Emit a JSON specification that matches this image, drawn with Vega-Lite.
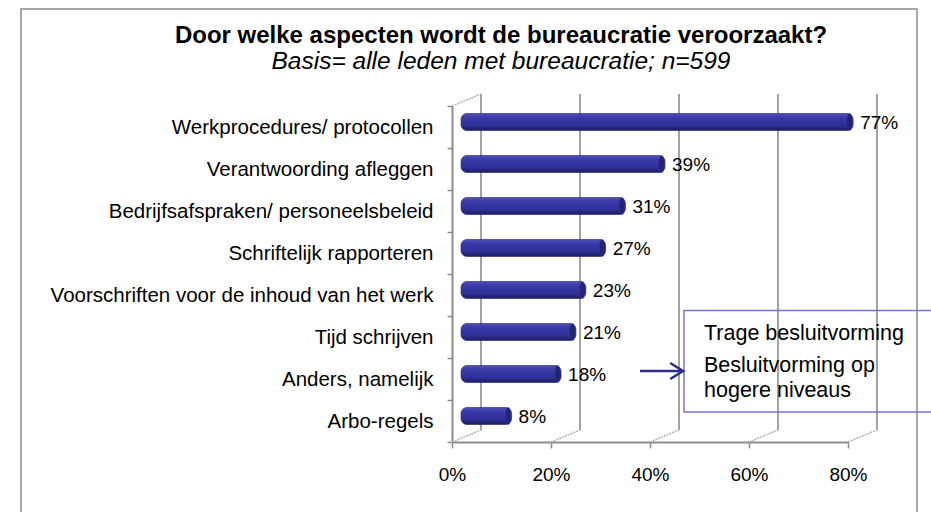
{
  "$schema": "https://vega.github.io/schema/vega-lite/v6.json",
  "width": 396,
  "height": 336,
  "autosize": {"type": "none"},
  "padding": {"left": 452, "top": 106, "right": 83, "bottom": 70},
  "background": "white",
  "config": {
    "view": {"stroke": null},
    "font": "Liberation Sans",
    "axis": {"grid": false, "labelFont": "Liberation Sans", "labelColor": "#000000", "domainColor": "#8c8c8c", "tickColor": "#8c8c8c", "domainWidth": 2, "tickWidth": 1.5},
    "axisX": {"tickSize": 6, "labelPadding": 17, "labelFontSize": 19, "tickCount": 4, "labelFlush": false, "labelOverlap": false, "labelExpr": "round(datum.value * 100) + '%'"}
  },
  "title": {
    "text": "Door welke aspecten wordt de bureaucratie veroorzaakt?",
    "subtitle": "Basis= alle leden met bureaucratie; n=599",
    "anchor": "middle",
    "frame": "group",
    "dx": -149,
    "offset": -65,
    "font": "Liberation Sans",
    "fontSize": 24,
    "fontWeight": "bold",
    "color": "#000000",
    "subtitleFont": "Liberation Sans",
    "subtitleFontSize": 24.5,
    "subtitleFontStyle": "italic",
    "subtitleColor": "#000000",
    "subtitlePadding": 2
  },
  "layer": [
    {
      "layer": [
        {
          "data": {"values": [{"part": "frame"}]},
          "mark": {"type": "rect", "fill": null, "stroke": "#8c8c8c", "strokeWidth": 1.5},
          "encoding": {
            "x": {"datum": -0.8707, "type": "quantitative", "scale": {"domain": [0, 0.8], "nice": false, "zero": false}, "title": null},
            "x2": {"datum": 0.9394},
            "y": {"datum": -2.31, "type": "quantitative", "scale": {"domain": [0, 8], "reverse": true, "nice": false, "zero": false}, "axis": null},
            "y2": {"datum": 10.2}
          }
        },
        {
          "data": {"values": [{"v": 0}, {"v": 0.2}, {"v": 0.4}, {"v": 0.6}, {"v": 0.8}]},
          "layer": [
            {
              "mark": {"type": "rule", "color": "#a3a3a3", "strokeWidth": 2, "xOffset": 29, "x2Offset": 29},
              "encoding": {
                "x": {"field": "v", "type": "quantitative", "scale": {"domain": [0, 0.8], "nice": false, "zero": false}, "title": null},
                "y": {"datum": -0.286, "type": "quantitative", "scale": {"domain": [0, 8], "reverse": true, "nice": false, "zero": false}, "axis": null},
                "y2": {"datum": 7.714}
              }
            },
            {
              "mark": {"type": "rule", "color": "#b0b0b0", "strokeWidth": 1.5, "strokeDash": [2, 1], "xOffset": 0, "x2Offset": 29},
              "encoding": {
                "x": {"field": "v", "type": "quantitative", "scale": {"domain": [0, 0.8], "nice": false, "zero": false}, "title": null},
                "x2": {"field": "v"},
                "y": {"datum": 8, "type": "quantitative", "scale": {"domain": [0, 8], "reverse": true, "nice": false, "zero": false}, "axis": null},
                "y2": {"datum": 7.714}
              }
            }
          ]
        },
        {
          "data": {"values": [{"v": 0}]},
          "mark": {"type": "rule", "color": "#b0b0b0", "strokeWidth": 1.5, "strokeDash": [2, 1], "xOffset": 0, "x2Offset": 29},
          "encoding": {
            "x": {"field": "v", "type": "quantitative", "scale": {"domain": [0, 0.8], "nice": false, "zero": false}, "title": null},
            "x2": {"field": "v"},
            "y": {"datum": 0, "type": "quantitative", "scale": {"domain": [0, 8], "reverse": true, "nice": false, "zero": false}, "axis": null},
            "y2": {"datum": -0.286}
          }
        },
        {
          "data": {"values": [{"part": "note box"}]},
          "mark": {"type": "rect", "fill": null, "stroke": "#7474dc", "strokeWidth": 1.5},
          "encoding": {
            "x": {"datum": 0.4687, "type": "quantitative", "scale": {"domain": [0, 0.8], "nice": false, "zero": false}, "title": null},
            "x2": {"datum": 1.02},
            "y": {"datum": 4.869, "type": "quantitative", "scale": {"domain": [0, 8], "reverse": true, "nice": false, "zero": false}, "axis": null},
            "y2": {"datum": 7.286}
          }
        },
        {
          "data": {"values": [{"part": "arrow"}]},
          "layer": [
            {
              "mark": {"type": "rule", "color": "#2e2e8c", "strokeWidth": 2.5},
              "encoding": {
                "x": {"datum": 0.3798, "type": "quantitative", "scale": {"domain": [0, 0.8], "nice": false, "zero": false}, "title": null},
                "x2": {"datum": 0.465},
                "y": {"datum": 6.31, "type": "quantitative", "scale": {"domain": [0, 8], "reverse": true, "nice": false, "zero": false}, "axis": null}
              }
            },
            {
              "mark": {"type": "point", "shape": "M-1.6,-1L0,0L-1.6,1", "filled": false, "stroke": "#2e2e8c", "strokeWidth": 2.5, "size": 256, "opacity": 1},
              "encoding": {
                "x": {"datum": 0.4667, "type": "quantitative", "scale": {"domain": [0, 0.8], "nice": false, "zero": false}, "title": null},
                "y": {"datum": 6.31, "type": "quantitative", "scale": {"domain": [0, 8], "reverse": true, "nice": false, "zero": false}, "axis": null}
              }
            }
          ]
        },
        {
          "data": {"values": [{"note": "Trage besluitvorming"}]},
          "mark": {"type": "text", "align": "left", "baseline": "alphabetic", "fontSize": 21.5, "color": "#000000"},
          "encoding": {
            "text": {"field": "note"},
            "x": {"datum": 0.5091, "type": "quantitative", "scale": {"domain": [0, 0.8], "nice": false, "zero": false}, "title": null},
            "y": {"datum": 5.571, "type": "quantitative", "scale": {"domain": [0, 8], "reverse": true, "nice": false, "zero": false}, "axis": null}
          }
        },
        {
          "data": {"values": [{"note": "Besluitvorming op"}]},
          "mark": {"type": "text", "align": "left", "baseline": "alphabetic", "fontSize": 21.5, "color": "#000000"},
          "encoding": {
            "text": {"field": "note"},
            "x": {"datum": 0.5091, "type": "quantitative", "scale": {"domain": [0, 0.8], "nice": false, "zero": false}, "title": null},
            "y": {"datum": 6.333, "type": "quantitative", "scale": {"domain": [0, 8], "reverse": true, "nice": false, "zero": false}, "axis": null}
          }
        },
        {
          "data": {"values": [{"note": "hogere niveaus"}]},
          "mark": {"type": "text", "align": "left", "baseline": "alphabetic", "fontSize": 21.5, "color": "#000000"},
          "encoding": {
            "text": {"field": "note"},
            "x": {"datum": 0.5091, "type": "quantitative", "scale": {"domain": [0, 0.8], "nice": false, "zero": false}, "title": null},
            "y": {"datum": 6.929, "type": "quantitative", "scale": {"domain": [0, 8], "reverse": true, "nice": false, "zero": false}, "axis": null}
          }
        }
      ]
    },
    {
      "data": {"values": [
        {"item": "Werkprocedures/ protocollen", "pct": 0.77},
        {"item": "Verantwoording afleggen", "pct": 0.39},
        {"item": "Bedrijfsafspraken/ personeelsbeleid", "pct": 0.31},
        {"item": "Schriftelijk rapporteren", "pct": 0.27},
        {"item": "Voorschriften voor de inhoud van het werk", "pct": 0.23},
        {"item": "Tijd schrijven", "pct": 0.21},
        {"item": "Anders, namelijk", "pct": 0.18},
        {"item": "Arbo-regels", "pct": 0.08}
      ]},
      "encoding": {
        "y": {
          "field": "item", "type": "nominal", "sort": null,
          "scale": {"paddingInner": 0, "paddingOuter": 0},
          "axis": {"orient": "left", "title": null, "tickBand": "extent", "tickSize": 5, "labelPadding": 14, "labelFontSize": 20.5, "labelLimit": 600}
        },
        "x": {"field": "pct", "type": "quantitative", "scale": {"domain": [0, 0.8], "nice": false, "zero": false}, "title": null}
      },
      "layer": [
        {
          "mark": {
            "type": "bar",
            "height": {"band": 0.405},
            "yOffset": -5,
            "xOffset": 20,
            "x2Offset": 9,
            "cornerRadius": 6,
            "stroke": "#22226a",
            "strokeWidth": 0.6,
            "fill": {"gradient": "linear", "x1": 0, "y1": 0, "x2": 0, "y2": 1, "stops": [
              {"offset": 0, "color": "#5050bc"},
              {"offset": 0.25, "color": "#3a3aa8"},
              {"offset": 0.7, "color": "#30309a"},
              {"offset": 1, "color": "#1c1c60"}
            ]}
          },
          "encoding": {
            "x2": {"datum": 0}
          }
        },
        {
          "mark": {"type": "point", "shape": "M0,-1A0.35,1,0,1,1,0,1A0.35,1,0,1,1,0,-1Z", "filled": true, "fill": "#24246f", "stroke": "#3a3a9a", "strokeWidth": 0.5, "size": 289, "opacity": 1, "xOffset": 16.5, "yOffset": -5}
        },
        {
          "mark": {"type": "text", "align": "left", "baseline": "middle", "fontSize": 19, "color": "#000000", "xOffset": 27, "yOffset": -4},
          "encoding": {"text": {"field": "pct", "type": "quantitative", "format": ".0%"}}
        }
      ]
    }
  ],
  "resolve": {"scale": {"y": "independent"}, "axis": {"y": "independent"}}
}
